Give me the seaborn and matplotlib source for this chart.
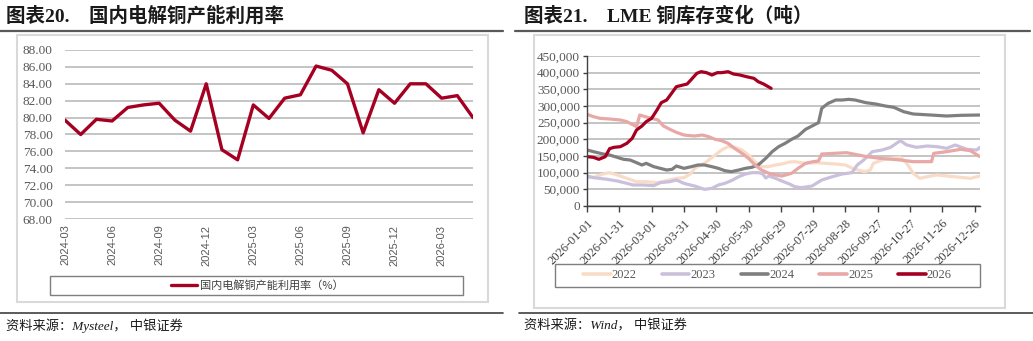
import pandas as pd
import numpy as np
import matplotlib.pyplot as plt
import matplotlib.ticker as mticker
from matplotlib.patches import Rectangle
from matplotlib.lines import Line2D
import seaborn as sns

# ---- chart 20: domestic electrolytic copper capacity utilisation (%)
months = ["2024-03", "2024-04", "2024-05", "2024-06", "2024-07", "2024-08", "2024-09",
          "2024-10", "2024-11", "2024-12", "2025-01", "2025-02", "2025-03", "2025-04",
          "2025-05", "2025-06", "2025-07", "2025-08", "2025-09", "2025-10", "2025-11",
          "2025-12", "2026-01", "2026-02", "2026-03", "2026-04", "2026-05"]
util_rate = [79.7, 78.0, 79.8, 79.6, 81.2, 81.5, 81.7, 79.7, 78.4, 84.0, 76.2, 75.0, 81.5,
             79.9, 82.3, 82.7, 86.1, 85.6, 84.0, 78.2, 83.3, 81.7, 84.0, 84.0, 82.3, 82.6, 80.0]

# ---- chart 21: LME copper stocks (thousand tonnes), by day of year
date_labels = ["2026-01-01", "2026-01-31", "2026-03-01", "2026-03-31", "2026-04-30",
               "2026-05-30", "2026-06-29", "2026-07-29", "2026-08-28", "2026-09-27",
               "2026-10-27", "2026-11-26", "2026-12-26"]

days_2022 = [0, 6, 15, 21, 28, 37, 46, 55, 65, 74, 83, 90, 96, 100, 109, 119, 125, 131, 137,
             144, 150, 156, 162, 168, 175, 181, 188, 193, 203, 212, 221, 231, 240, 249, 258,
             263, 266, 274, 282, 291, 297, 303, 309, 316, 325, 334, 347, 356, 365]
stock_2022 = [85, 86, 96, 100, 93, 83, 73, 73, 70, 76, 83, 85, 96, 113, 128, 153, 168, 178, 176,
              168, 153, 133, 118, 118, 123, 126, 132, 133, 128, 130, 128, 126, 123, 110, 103,
              108, 128, 138, 143, 146, 128, 98, 83, 88, 93, 90, 86, 83, 90]

days_2023 = [0, 6, 19, 28, 37, 43, 52, 62, 68, 77, 83, 90, 96, 100, 109, 116, 122, 128, 134,
             141, 147, 153, 159, 163, 166, 169, 175, 181, 188, 193, 199, 209, 218, 228, 237,
             246, 251, 257, 265, 274, 282, 291, 297, 306, 316, 325, 334, 342, 353, 362, 365]
stock_2023 = [90, 85, 80, 75, 68, 63, 63, 61, 70, 73, 78, 68, 63, 60, 50, 53, 63, 68, 76,
              88, 96, 100, 100, 97, 84, 90, 83, 75, 66, 58, 55, 60, 78, 88, 96,
              100, 123, 138, 163, 168, 176, 196, 183, 176, 180, 178, 173, 183, 170, 168, 176]

days_2024 = [0, 6, 15, 21, 28, 34, 40, 46, 51, 55, 62, 68, 74, 79, 83, 90, 97, 103, 109, 116,
             122, 128, 134, 141, 147, 153, 159, 166, 172, 178, 184, 190, 196, 203, 209, 215,
             218, 224, 231, 237, 243, 249, 259, 268, 277, 285, 294, 303, 319, 334, 347, 365]
stock_2024 = [168, 163, 156, 153, 146, 140, 138, 130, 123, 128, 118, 113, 108, 110, 120, 113,
              118, 123, 123, 118, 113, 106, 103, 108, 113, 116, 123, 143, 163, 178, 188, 200,
              210, 230, 240, 250, 293, 308, 318, 318, 320, 318, 310, 306, 300, 296, 283, 276,
              273, 270, 272, 273]

days_2025 = [0, 6, 12, 21, 31, 37, 43, 46, 49, 54, 60, 66, 71, 77, 83, 90, 96, 100, 107, 113,
             119, 125, 131, 137, 144, 150, 156, 162, 169, 175, 181, 190, 196, 203, 210, 215,
             218, 241, 260, 272, 291, 303, 320, 322, 334, 347, 356, 365]
stock_2025 = [275, 268, 263, 261, 258, 253, 243, 238, 273, 268, 263, 258, 240, 230, 221, 213,
              211, 210, 213, 208, 200, 196, 188, 173, 158, 143, 123, 108, 98, 93, 90, 98,
              113, 128, 133, 135, 156, 160, 148, 143, 138, 133, 133, 158, 163, 170, 166, 148]

days_2026 = [0, 6, 11, 17, 21, 25, 31, 37, 42, 46, 51, 55, 60, 65, 69, 74, 79, 83, 88, 93,
             97, 102, 106, 111, 116, 121, 125, 131, 136, 142, 148, 155, 159, 164, 171]
stock_2026 = [148, 146, 140, 148, 172, 176, 178, 188, 203, 228, 240, 253, 263, 288, 310, 318,
              340, 358, 362, 366, 380, 398, 403, 400, 393, 400, 400, 403, 396, 393, 388, 383,
              373, 366, 353]

years = ["2022", "2023", "2024", "2025", "2026"]
year_colors = {"2022": "#F9DCC8", "2023": "#CBC0DC", "2024": "#7F7F7F",
               "2025": "#E8A8A6", "2026": "#A50021"}

RED = "#A50021"
GRID = "#BFBFBF"
W, H = 1033, 341

sns.set_style("white")
plt.rcParams["font.family"] = ["Liberation Serif", "Noto Sans CJK SC", "DejaVu Sans"]
plt.rcParams["axes.unicode_minus"] = False
CJK = ["Noto Sans CJK SC", "DejaVu Sans"]
MIX = ["Liberation Serif", "Noto Sans CJK SC"]

fig = plt.figure(figsize=(W / 100, H / 100), dpi=100)


def px(x0, y0, x1, y1):
    # pixel box (top-left origin) -> figure fraction
    return [x0 / W, 1 - y1 / H, (x1 - x0) / W, (y1 - y0) / H]


def box(x0, y0, x1, y1, ec, lw):
    fig.add_artist(Rectangle((x0 / W, 1 - y1 / H), (x1 - x0) / W, (y1 - y0) / H,
                             transform=fig.transFigure, fill=False, ec=ec, lw=lw))


def hline(x0, x1, y, color, lw):
    fig.add_artist(Line2D([x0 / W, x1 / W], [1 - y / H, 1 - y / H],
                          transform=fig.transFigure, color=color, lw=lw))


# frames, rules, titles, sources
box(17, 35, 488, 302, "#D9D9D9", 1.5)
box(534, 35, 1005, 308, "#D9D9D9", 1.5)
hline(0, 503, 31, "#595959", 1.6)
hline(515, 1030, 31, "#595959", 1.6)
hline(0, 503, 313, "#404040", 1.2)
hline(519, 1033, 313, "#404040", 1.2)

fig.text(6 / W, 1 - 16 / H, "图表20.    国内电解铜产能利用率", fontsize=14, weight="bold",
         va="center", family=MIX, color="#1a1a1a")
fig.text(524 / W, 1 - 16 / H, "图表21.    LME 铜库存变化（吨）", fontsize=14, weight="bold",
         va="center", family=MIX, color="#1a1a1a")
fig.text(6 / W, 1 - 326 / H, "资料来源：Mysteel， 中银证券", fontsize=9.5, style="italic",
         va="center", family=MIX, color="#1a1a1a")
fig.text(524 / W, 1 - 326 / H, "资料来源：Wind， 中银证券", fontsize=9.5, style="italic",
         va="center", family=MIX, color="#1a1a1a")

# ---- left chart
util = pd.DataFrame({"month": months, "rate": util_rate})
util["i"] = np.arange(len(util))
ax1 = fig.add_axes(px(65, 50, 473, 219))
sns.lineplot(data=util, x="i", y="rate", ax=ax1, color=RED, lw=2.4,
             label="国内电解铜产能利用率（%）")
ax1.set_xlim(0, len(months) - 1)
ax1.set_ylim(68, 88)
ax1.set_yticks(np.arange(68, 89, 2))
ax1.yaxis.set_major_formatter(mticker.FormatStrFormatter("%.2f"))
ax1.set_xticks(util["i"][::3])
ax1.set_xticklabels(util["month"][::3], rotation=90, family="Liberation Sans",
                    fontsize=8, color="#595959")
for lab in ax1.get_yticklabels():
    lab.set_fontsize(9.5)
    lab.set_color("#595959")
ax1.tick_params(axis="y", length=0, pad=9)
ax1.tick_params(axis="x", length=0, pad=4)
ax1.grid(axis="y", color=GRID, lw=1.3)
ax1.grid(axis="x", visible=False)
ax1.set_axisbelow(True)
for s in ax1.spines.values():
    s.set_visible(False)
ax1.set_xlabel("")
ax1.set_ylabel("")
box(50, 276, 463, 295, "#7F7F7F", 1.0)
ax1.legend(loc="center", bbox_to_anchor=(257 / W, 1 - 285.5 / H), bbox_transform=fig.transFigure,
           frameon=False, prop={"family": CJK, "size": 8}, handlelength=2.4, handletextpad=0.2,
           labelcolor="#404040")

# ---- right chart
parts = []
for yr, d, v in [("2022", days_2022, stock_2022), ("2023", days_2023, stock_2023),
                 ("2024", days_2024, stock_2024), ("2025", days_2025, stock_2025),
                 ("2026", days_2026, stock_2026)]:
    parts.append(pd.DataFrame({"year": yr, "day": d, "tonnes": np.array(v) * 1000}))
stock = pd.concat(parts, ignore_index=True)

ax2 = fig.add_axes(px(587, 56, 980, 206))
sns.lineplot(data=stock, x="day", y="tonnes", hue="year", hue_order=years,
             palette=year_colors, lw=2.3, ax=ax2, legend=False)
ax2.set_xlim(0, 365)
ax2.set_ylim(0, 450000)
ax2.set_yticks(np.arange(0, 450001, 50000))
ax2.yaxis.set_major_formatter(mticker.StrMethodFormatter("{x:,.0f}"))
ax2.set_xticks(np.arange(len(date_labels)) * 30)
ax2.set_xticklabels(date_labels, rotation=45, ha="right",
                    rotation_mode="anchor", fontsize=9, color="#404040")
for lab in ax2.get_yticklabels():
    lab.set_fontsize(9.5)
    lab.set_color("#595959")
ax2.tick_params(axis="y", direction="out", length=3, width=1, color="#404040", pad=2, left=True)
ax2.tick_params(axis="x", direction="out", length=4, width=1, color="#404040", pad=4, bottom=True)
ax2.grid(axis="y", color=GRID, lw=1.3)
ax2.grid(axis="x", visible=False)
ax2.set_axisbelow(True)
for side in ["top", "right"]:
    ax2.spines[side].set_visible(False)
for side in ["left", "bottom"]:
    ax2.spines[side].set_color("#404040")
    ax2.spines[side].set_linewidth(1)
ax2.set_xlabel("")
ax2.set_ylabel("")

box(555, 264, 980, 287, "#7F7F7F", 1.0)
handles = [Line2D([], [], color=year_colors[y], lw=2.6) for y in years]
ax2.legend(handles, years, loc="center", ncol=5, bbox_to_anchor=(767.5 / W, 1 - 275.5 / H),
           bbox_transform=fig.transFigure, frameon=False, prop={"family": "Liberation Serif", "size": 9},
           handlelength=2.2, handletextpad=0.1, columnspacing=2.0, labelcolor="#595959")

fig.savefig("out.png", dpi=100)
